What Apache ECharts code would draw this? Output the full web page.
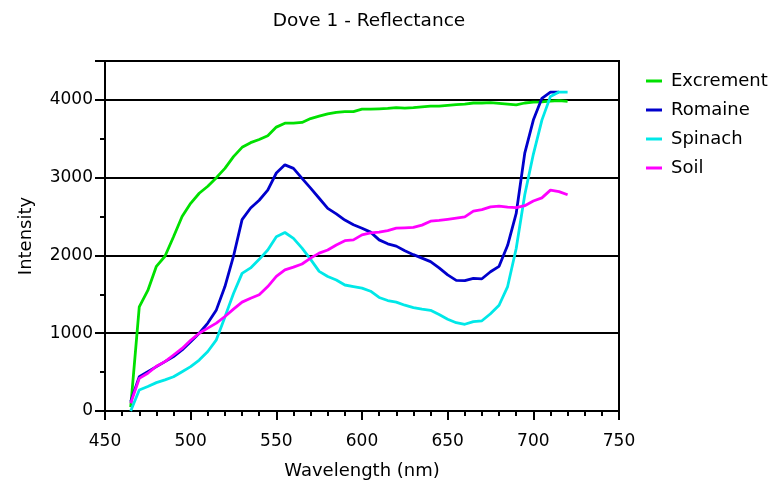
<!DOCTYPE html>
<html lang="en">
<head>
    <meta charset="UTF-8">
    <title>Dove 1 - Reflectance</title>
    <style type="text/css">
        html, body { margin: 0; padding: 0; background: #ffffff; }
        #main { width: 774px; height: 489px; }
    </style>
</head>
<body>
<div id="main"></div>
<script type="text/javascript" src="https://cdn.jsdelivr.net/npm/echarts@6/dist/echarts.min.js"></script>
<script type="text/javascript">
    // wavelengths (nm), one reading every 5 nm
    var wavelengths = [465, 470, 475, 480, 485, 490, 495, 500, 505, 510, 515, 520, 525, 530, 535, 540, 545, 550,
        555, 560, 565, 570, 575, 580, 585, 590, 595, 600, 605, 610, 615, 620, 625, 630, 635, 640, 645, 650,
        655, 660, 665, 670, 675, 680, 685, 690, 695, 700, 705, 710, 715, 720];

    var excrement = [50, 1340, 1550, 1860, 1990, 2240, 2500, 2670, 2800, 2890, 3000, 3120, 3270, 3390, 3450, 3490,
        3540, 3650, 3700, 3700, 3710, 3760, 3790, 3820, 3840, 3850, 3850, 3880, 3880, 3885, 3890, 3900, 3895,
        3900, 3910, 3920, 3920, 3930, 3940, 3945, 3960, 3960, 3965, 3955, 3945, 3935, 3960, 3970, 3975, 3985,
        3990, 3980];

    var romaine = [120, 440, 505, 570, 635, 700, 785, 890, 1000, 1130, 1300, 1600, 1990, 2460, 2610, 2710, 2840,
        3060, 3165, 3120, 2990, 2865, 2735, 2605, 2535, 2455, 2395, 2350, 2300, 2200, 2150, 2120, 2060, 2010,
        1965, 1920, 1840, 1750, 1680, 1675, 1705, 1700, 1790, 1860, 2130, 2540, 3315, 3740, 4020, 4100, 4100,
        null];

    var spinach = [0, 270, 315, 365, 400, 440, 505, 570, 655, 765, 915, 1210, 1510, 1770, 1840, 1950, 2070, 2240,
        2295, 2220, 2095, 1950, 1795, 1730, 1685, 1620, 1600, 1580, 1540, 1460, 1420, 1400, 1360, 1330, 1310,
        1295, 1240, 1180, 1135, 1115, 1150, 1160, 1250, 1360, 1600, 2090, 2780, 3300, 3740, 4045, 4100, 4100];

    var soil = [100, 420, 485, 575, 635, 720, 805, 910, 1000, 1065, 1130, 1215, 1310, 1400, 1450, 1495, 1600, 1730,
        1815, 1850, 1890, 1965, 2030, 2070, 2135, 2190, 2200, 2265, 2290, 2300, 2320, 2350, 2355, 2360, 2390,
        2440, 2450, 2465, 2480, 2495, 2570, 2590, 2625, 2635, 2620, 2615, 2640, 2700, 2740, 2840, 2820, 2780];

    var names = ['Excrement', 'Romaine', 'Spinach', 'Soil'];
    var colors = ['#00e000', '#0000cc', '#00e8e8', '#ff00ff'];
    var values = [excrement, romaine, spinach, soil];

    var font = 'DejaVu Sans';

    function pairs(arr) {
        var out = [];
        for (var i = 0; i < wavelengths.length; i++) {
            out.push([wavelengths[i], arr[i]]);
        }
        return out;
    }

    var series = [];
    for (var i = 0; i < names.length; i++) {
        series.push({
            name: names[i],
            type: 'line',
            data: pairs(values[i]),
            showSymbol: false,
            connectNulls: false,
            lineStyle: { color: colors[i], width: 2.8 },
            itemStyle: { color: colors[i] }
        });
    }

    var myChart = echarts.init(document.getElementById('main'));
    var option = {
        animation: false,
        title: {
            text: 'Dove 1 - Reflectance',
            left: 364,
            top: 7,
            textAlign: 'center',
            textStyle: { fontFamily: font, fontSize: 18.5, fontWeight: 'normal', color: '#000' }
        },
        legend: {
            orient: 'vertical',
            left: 641,
            top: 67,
            itemWidth: 16,
            itemHeight: 3,
            itemGap: 11,
            icon: 'rect',
            data: names,
            textStyle: { fontFamily: font, fontSize: 18, color: '#000', padding: [0, 0, 0, 4] }
        },
        grid: {
            left: 105,
            right: 155,
            top: 61,
            bottom: 78,
            show: true,
            borderColor: '#000',
            borderWidth: 2
        },
        xAxis: {
            type: 'value',
            min: 450,
            max: 750,
            interval: 50,
            name: 'Wavelength (nm)',
            nameLocation: 'middle',
            nameGap: 51,
            nameTextStyle: { fontFamily: font, fontSize: 18, color: '#000' },
            axisLine: { show: true, lineStyle: { color: '#000', width: 2 } },
            axisTick: { show: true, length: 9, lineStyle: { color: '#000', width: 2 } },
            minorTick: { show: true, splitNumber: 5, length: 5, lineStyle: { color: '#000', width: 2 } },
            axisLabel: { fontFamily: font, fontSize: 17, color: '#000', margin: 22 },
            splitLine: { show: false }
        },
        yAxis: {
            type: 'value',
            min: 0,
            max: 4500,
            interval: 1000,
            name: 'Intensity',
            nameLocation: 'middle',
            nameGap: 70,
            nameTextStyle: { fontFamily: font, fontSize: 18, color: '#000' },
            axisLine: { show: true, lineStyle: { color: '#000', width: 2 } },
            axisTick: { show: true, length: 10, lineStyle: { color: '#000', width: 2 } },
            minorTick: { show: true, splitNumber: 2, length: 5, lineStyle: { color: '#000', width: 2 } },
            axisLabel: {
                fontFamily: font, fontSize: 17, color: '#000', margin: 12, showMaxLabel: false,
                formatter: function (v) { return String(v); }
            },
            splitLine: { show: true, lineStyle: { color: '#000', width: 2 } }
        },
        series: series
    };
    myChart.setOption(option);
</script>
</body>
</html>
